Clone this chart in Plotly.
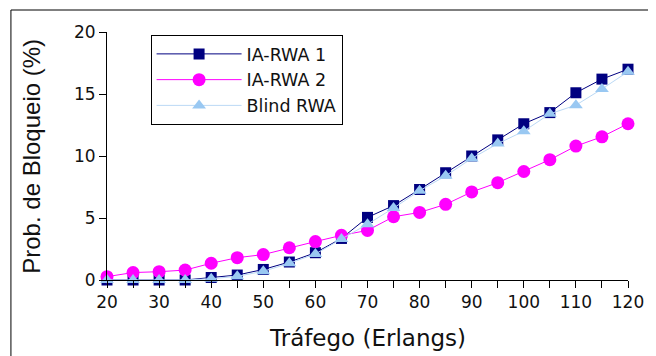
import plotly.graph_objects as go

traffic = [20, 25, 30, 35, 40, 45, 50, 55, 60, 65, 70, 75, 80, 85, 90, 95, 100, 105, 110, 115, 120]
ia_rwa1 = [0.0, 0.0, 0.0, 0.0, 0.2, 0.4, 0.85, 1.45, 2.2, 3.35, 5.05, 6.0, 7.3, 8.65, 10.0, 11.3, 12.6, 13.5, 15.1, 16.2, 17.0]
ia_rwa2 = [0.27, 0.6, 0.67, 0.8, 1.35, 1.8, 2.05, 2.6, 3.1, 3.6, 4.0, 5.1, 5.45, 6.1, 7.1, 7.85, 8.75, 9.7, 10.8, 11.55, 12.6]
blind_rwa = [0.0, 0.0, 0.0, 0.0, 0.1, 0.3, 0.7, 1.35, 2.1, 3.3, 4.5, 5.8, 7.2, 8.4, 9.8, 11.0, 12.0, 13.4, 14.1, 15.4, 16.8]

x_ticks = [20, 30, 40, 50, 60, 70, 80, 90, 100, 110, 120]
y_ticks = [0, 5, 10, 15, 20]

FONT = "DejaVu Sans"

fig = go.Figure()
fig.add_trace(go.Scatter(
    x=traffic, y=ia_rwa1, name="IA-RWA 1", mode="lines+markers",
    line=dict(color="#000080", width=1),
    marker=dict(symbol="square", size=11, color="#000080"),
    cliponaxis=False))
fig.add_trace(go.Scatter(
    x=traffic, y=ia_rwa2, name="IA-RWA 2", mode="lines+markers",
    line=dict(color="#FF00FF", width=1),
    marker=dict(symbol="circle", size=13, color="#FF00FF"),
    cliponaxis=False))
fig.add_trace(go.Scatter(
    x=traffic, y=blind_rwa, name="Blind RWA", mode="lines+markers",
    line=dict(color="#BBD9F5", width=1),
    marker=dict(symbol="triangle-up", size=12, color="#99C8F2"),
    cliponaxis=False))

# page body has an 8px margin; figure coordinates are offset by it
OFF = 8
W, H = 656 - OFF, 356 - OFF
L, T = 107 - OFF, 32 - OFF
pw, ph = 526, 248
R, B = W - L - pw, H - T - ph

def py(y_page):
    return (T + ph - (y_page - OFF)) / ph

def px(x_page):
    return (x_page - OFF - L) / pw

fig.update_layout(
    width=W, height=H,
    margin=dict(l=L, r=R, t=T, b=B),
    paper_bgcolor="white", plot_bgcolor="white",
    font=dict(family=FONT, color="#111111", size=17),
    showlegend=True,
    legend=dict(
        x=px(151), y=py(35), xanchor="left", yanchor="top",
        bordercolor="black", borderwidth=1, bgcolor="white",
        font=dict(family=FONT, size=17.5, color="#111111"),
        itemwidth=85, tracegroupgap=0,
    ),
    xaxis=dict(
        range=[20, 120], tickvals=x_ticks, ticktext=[str(v) for v in x_ticks],
        ticks="outside", ticklen=7, tickcolor="black", tickwidth=1,
        showline=True, linecolor="black", linewidth=1, showgrid=False, zeroline=False,
        tickfont=dict(family=FONT, size=17, color="#111111"),
        minor=dict(dtick=5, tick0=20, ticks="outside", ticklen=7, tickcolor="black", showgrid=False),
    ),
    yaxis=dict(
        range=[0, 20], tickvals=y_ticks, ticktext=[str(v) for v in y_ticks],
        ticks="outside", ticklen=7, tickcolor="black", tickwidth=1,
        showline=True, linecolor="black", linewidth=1, showgrid=False, zeroline=False,
        tickfont=dict(family=FONT, size=17, color="#111111"),
    ),
    shapes=[dict(type="rect", xref="paper", yref="paper",
                 x0=px(10), x1=3, y0=-3, y1=py(10),
                 line=dict(color="black", width=1), fillcolor="rgba(0,0,0,0)", layer="above")],
    annotations=[
        dict(text="Tráfego (Erlangs)", xref="paper", yref="paper",
             x=0.5, y=py(338), xanchor="center", yanchor="middle",
             showarrow=False, font=dict(family=FONT, size=23, color="#111111")),
        dict(text="Prob. de Bloqueio (%)", xref="paper", yref="paper",
             x=px(30), y=0.5, xanchor="center", yanchor="middle", textangle=-90,
             showarrow=False, font=dict(family="Liberation Sans", size=24, color="#111111")),
    ],
)

fig.write_html("out.html")
